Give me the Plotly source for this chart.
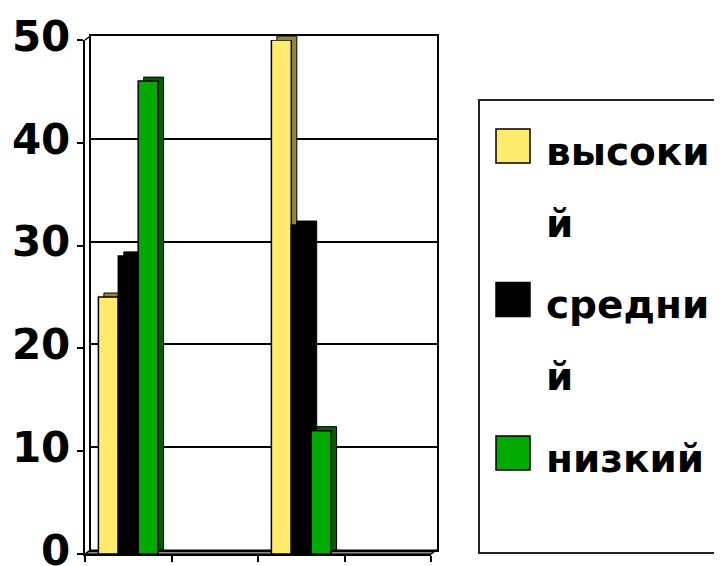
import plotly.graph_objects as go

# ---- data ----
series_names = ["высокий", "средний", "низкий"]
high_vals = [25, None, 50, None]
mid_vals = [29, None, 32, None]
low_vals = [46, None, 12, None]
y_ticks = [0, 10, 20, 30, 40, 50]

front_colors = ["#FFEB6B", "#000000", "#00AA00"]
side_colors = ["#8F8540", "#000000", "#005F00"]

W, H = 722, 566
OFF = 8  # page body margin compensation
FONT = "DejaVu Sans"


def px(x):
    return (x - OFF) / W


def py(y):
    return 1 - (y - OFF) / H


# front face (px) and back-wall offset
FX0, FX1, FY0, FY1 = 85, 431, 40, 554
DX, DY = 5.5, -4
BX0, BX1, BY0, BY1 = FX0 + DX, FX1 + DX, FY0 + DY, FY1 + DY

all_vals = [high_vals, mid_vals, low_vals]
xs = list(range(len(high_vals)))

fig = go.Figure()

# back (depth) bars on the back subplot
for name, vals, col in zip(series_names, all_vals, side_colors):
    fig.add_trace(go.Bar(x=xs, y=vals, name=name, marker=dict(color=col, line=dict(color="black", width=1)),
                         xaxis="x", yaxis="y", showlegend=False, hoverinfo="skip"))
# front bars
for name, vals, col in zip(series_names, all_vals, front_colors):
    fig.add_trace(go.Bar(x=xs, y=vals, name=name, marker=dict(color=col, line=dict(color="black", width=1.5)),
                         xaxis="x2", yaxis="y2", showlegend=False))

rng = [-0.5, len(xs) - 0.5]

shapes = []
# floor
shapes.append(dict(type="path", xref="paper", yref="paper", layer="below",
                   path=f"M {px(FX0)} {py(FY1)} L {px(FX1)} {py(FY1)} L {px(BX1)} {py(BY1)} L {px(BX0)} {py(BY1)} Z",
                   fillcolor="#8C8C8C", line=dict(color="black", width=1)))
# corner connectors
for (x0, y0, x1, y1) in [(FX0, FY0, BX0, BY0), (FX0, FY1, BX0, BY1), (FX1, FY1, BX1, BY1)]:
    shapes.append(dict(type="line", xref="paper", yref="paper", x0=px(x0), y0=py(y0), x1=px(x1), y1=py(y1),
                       line=dict(color="black", width=1.5)))

# legend (drawn manually to match big square swatches)
shapes.append(dict(type="rect", xref="paper", yref="paper", x0=px(479), y0=py(100), x1=px(740), y1=py(553),
                   line=dict(color="#222222", width=2), fillcolor="rgba(0,0,0,0)"))
annotations = []
item_y = [146, 299.5, 453]
for name, col, yc in zip(series_names, front_colors, item_y):
    shapes.append(dict(type="rect", xref="paper", yref="paper", x0=px(496), x1=px(530), y0=py(yc - 17), y1=py(yc + 17),
                       fillcolor=col, line=dict(color="black", width=1.5)))
    lines = [name[i:i + 6] for i in range(0, len(name), 6)]
    for k, t in enumerate(lines):
        annotations.append(dict(xref="paper", yref="paper", x=px(544), y=py(yc + 5 + 72 * k), xanchor="left",
                                yanchor="middle", text=t, showarrow=False,
                                font=dict(family=FONT, size=39, color="black", weight="bold")))

fig.update_layout(
    template="none",
    width=W, height=H, margin=dict(l=0, r=0, t=0, b=0, pad=0),
    paper_bgcolor="white", plot_bgcolor="rgba(0,0,0,0)",
    barmode="group", bargap=0.31, bargroupgap=0,
    showlegend=False,
    xaxis=dict(domain=[px(BX0), px(BX1)], range=rng, showgrid=False, zeroline=False, showticklabels=False,
               ticks="", showline=True, mirror=True, linecolor="black", linewidth=1.5, automargin=False),
    yaxis=dict(domain=[py(BY1), py(BY0)], range=[0, 50], tickvals=y_ticks, showgrid=True, gridcolor="black",
               gridwidth=1.5, zeroline=False, showticklabels=True, ticks="", showline=True, mirror=True,
               linecolor="black", linewidth=1.5, automargin=False, ticklabelstandoff=10,
               ticklabeloverflow="allow",
               tickfont=dict(family=FONT, size=42, color="black", weight="bold")),
    xaxis2=dict(domain=[px(FX0), px(FX1)], anchor="y2", range=rng, showgrid=False, zeroline=False,
                tickvals=[x - 0.5 for x in xs] + [xs[-1] + 0.5], ticktext=[""] * (len(xs) + 1),
                ticks="outside", ticklen=6, tickwidth=2, tickcolor="black", automargin=False,
                showline=True, linecolor="black", linewidth=2),
    yaxis2=dict(domain=[py(FY1), py(FY0)], anchor="x2", range=[0, 50], tickvals=y_ticks, showgrid=False,
                zeroline=False, ticks="outside", ticklen=6, tickwidth=2, tickcolor="black", automargin=False,
                showline=True, linecolor="black", linewidth=2, showticklabels=False),
    shapes=shapes, annotations=annotations,
)

fig.write_html("out.html")
